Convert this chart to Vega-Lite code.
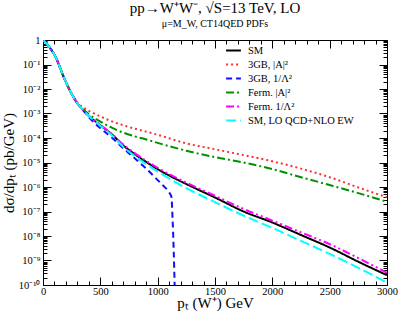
{
  "$schema": "https://vega.github.io/schema/vega-lite/v6.json",
  "autosize": {"type": "none"},
  "width": 344,
  "height": 245,
  "padding": {"left": 43, "top": 40, "right": 12, "bottom": 31},
  "background": "white",
  "config": {
    "font": "Liberation Serif",
    "view": {"stroke": null},
    "axis": {"domainColor": "black", "tickColor": "black", "labelColor": "black", "titleColor": "black", "labelFont": "Liberation Serif", "titleFont": "Liberation Serif", "titleFontWeight": "normal", "grid": false}
  },
  "title": {
    "text": "pp→W⁺W⁻, √S=13 TeV, LO",
    "subtitle": "μ=M_W, CT14QED PDFs",
    "font": "Liberation Serif",
    "fontSize": 15,
    "fontWeight": "normal",
    "color": "black",
    "subtitleFont": "Liberation Serif",
    "subtitleFontSize": 10,
    "subtitleColor": "black",
    "subtitlePadding": 3,
    "offset": 6,
    "anchor": "middle"
  },
  "data": {"values": [
    {"s": "SM", "pt": 5, "v": 0.955}, {"s": "SM", "pt": 25, "v": 0.759}, {"s": "SM", "pt": 50, "v": 0.562}, {"s": "SM", "pt": 75, "v": 0.38}, {"s": "SM", "pt": 100, "v": 0.251}, {"s": "SM", "pt": 125, "v": 0.141}, {"s": "SM", "pt": 150, "v": 0.0708}, {"s": "SM", "pt": 175, "v": 0.0355}, {"s": "SM", "pt": 200, "v": 0.0191}, {"s": "SM", "pt": 250, "v": 0.00631}, {"s": "SM", "pt": 300, "v": 0.00263}, {"s": "SM", "pt": 350, "v": 0.00138}, {"s": "SM", "pt": 400, "v": 7.94e-4}, {"s": "SM", "pt": 450, "v": 5.01e-4}, {"s": "SM", "pt": 500, "v": 3.31e-4}, {"s": "SM", "pt": 600, "v": 1.41e-4}, {"s": "SM", "pt": 700, "v": 5.01e-5}, {"s": "SM", "pt": 800, "v": 2.19e-5}, {"s": "SM", "pt": 900, "v": 1.05e-5}, {"s": "SM", "pt": 1000, "v": 5.37e-6}, {"s": "SM", "pt": 1100, "v": 2.95e-6}, {"s": "SM", "pt": 1250, "v": 1.32e-6}, {"s": "SM", "pt": 1500, "v": 3.72e-7}, {"s": "SM", "pt": 1750, "v": 1.0e-7}, {"s": "SM", "pt": 2000, "v": 3.55e-8}, {"s": "SM", "pt": 2250, "v": 1.1e-8}, {"s": "SM", "pt": 2500, "v": 3.39e-9}, {"s": "SM", "pt": 2750, "v": 8.91e-10}, {"s": "SM", "pt": 3000, "v": 2.51e-10},

    {"s": "3GB, |A|²", "pt": 5, "v": 0.955}, {"s": "3GB, |A|²", "pt": 25, "v": 0.759}, {"s": "3GB, |A|²", "pt": 50, "v": 0.562}, {"s": "3GB, |A|²", "pt": 75, "v": 0.38}, {"s": "3GB, |A|²", "pt": 100, "v": 0.251}, {"s": "3GB, |A|²", "pt": 125, "v": 0.141}, {"s": "3GB, |A|²", "pt": 150, "v": 0.0708}, {"s": "3GB, |A|²", "pt": 175, "v": 0.0355}, {"s": "3GB, |A|²", "pt": 200, "v": 0.0191}, {"s": "3GB, |A|²", "pt": 250, "v": 0.00631}, {"s": "3GB, |A|²", "pt": 300, "v": 0.00275}, {"s": "3GB, |A|²", "pt": 350, "v": 0.00178}, {"s": "3GB, |A|²", "pt": 400, "v": 0.00129}, {"s": "3GB, |A|²", "pt": 500, "v": 7.59e-4}, {"s": "3GB, |A|²", "pt": 600, "v": 4.79e-4}, {"s": "3GB, |A|²", "pt": 700, "v": 3.31e-4}, {"s": "3GB, |A|²", "pt": 800, "v": 2.4e-4}, {"s": "3GB, |A|²", "pt": 900, "v": 1.82e-4}, {"s": "3GB, |A|²", "pt": 1000, "v": 1.35e-4}, {"s": "3GB, |A|²", "pt": 1250, "v": 6.03e-5}, {"s": "3GB, |A|²", "pt": 1500, "v": 3.47e-5}, {"s": "3GB, |A|²", "pt": 1750, "v": 2.0e-5}, {"s": "3GB, |A|²", "pt": 2000, "v": 1.12e-5}, {"s": "3GB, |A|²", "pt": 2250, "v": 5.62e-6}, {"s": "3GB, |A|²", "pt": 2500, "v": 2.51e-6}, {"s": "3GB, |A|²", "pt": 2750, "v": 9.55e-7}, {"s": "3GB, |A|²", "pt": 3000, "v": 3.8e-7},

    {"s": "3GB, 1/Λ²", "pt": 5, "v": 0.955}, {"s": "3GB, 1/Λ²", "pt": 25, "v": 0.759}, {"s": "3GB, 1/Λ²", "pt": 50, "v": 0.562}, {"s": "3GB, 1/Λ²", "pt": 75, "v": 0.38}, {"s": "3GB, 1/Λ²", "pt": 100, "v": 0.251}, {"s": "3GB, 1/Λ²", "pt": 125, "v": 0.141}, {"s": "3GB, 1/Λ²", "pt": 150, "v": 0.0708}, {"s": "3GB, 1/Λ²", "pt": 175, "v": 0.0355}, {"s": "3GB, 1/Λ²", "pt": 200, "v": 0.0191}, {"s": "3GB, 1/Λ²", "pt": 250, "v": 0.00631}, {"s": "3GB, 1/Λ²", "pt": 300, "v": 0.00263}, {"s": "3GB, 1/Λ²", "pt": 350, "v": 0.00138}, {"s": "3GB, 1/Λ²", "pt": 400, "v": 7.08e-4}, {"s": "3GB, 1/Λ²", "pt": 500, "v": 2.51e-4}, {"s": "3GB, 1/Λ²", "pt": 600, "v": 1.05e-4}, {"s": "3GB, 1/Λ²", "pt": 700, "v": 3.8e-5}, {"s": "3GB, 1/Λ²", "pt": 800, "v": 1.48e-5}, {"s": "3GB, 1/Λ²", "pt": 900, "v": 5.62e-6}, {"s": "3GB, 1/Λ²", "pt": 1000, "v": 1.91e-6}, {"s": "3GB, 1/Λ²", "pt": 1050, "v": 1.12e-6}, {"s": "3GB, 1/Λ²", "pt": 1100, "v": 6.03e-7}, {"s": "3GB, 1/Λ²", "pt": 1120, "v": 3.98e-7}, {"s": "3GB, 1/Λ²", "pt": 1130, "v": 5.01e-8}, {"s": "3GB, 1/Λ²", "pt": 1140, "v": 2.51e-9}, {"s": "3GB, 1/Λ²", "pt": 1148, "v": 1e-10},

    {"s": "Ferm. |A|²", "pt": 5, "v": 0.955}, {"s": "Ferm. |A|²", "pt": 25, "v": 0.759}, {"s": "Ferm. |A|²", "pt": 50, "v": 0.562}, {"s": "Ferm. |A|²", "pt": 75, "v": 0.38}, {"s": "Ferm. |A|²", "pt": 100, "v": 0.251}, {"s": "Ferm. |A|²", "pt": 125, "v": 0.141}, {"s": "Ferm. |A|²", "pt": 150, "v": 0.0708}, {"s": "Ferm. |A|²", "pt": 175, "v": 0.0355}, {"s": "Ferm. |A|²", "pt": 200, "v": 0.0191}, {"s": "Ferm. |A|²", "pt": 250, "v": 0.00631}, {"s": "Ferm. |A|²", "pt": 300, "v": 0.00251}, {"s": "Ferm. |A|²", "pt": 350, "v": 0.00148}, {"s": "Ferm. |A|²", "pt": 400, "v": 9.33e-4}, {"s": "Ferm. |A|²", "pt": 500, "v": 4.68e-4}, {"s": "Ferm. |A|²", "pt": 600, "v": 2.63e-4}, {"s": "Ferm. |A|²", "pt": 700, "v": 1.66e-4}, {"s": "Ferm. |A|²", "pt": 800, "v": 1.17e-4}, {"s": "Ferm. |A|²", "pt": 900, "v": 8.71e-5}, {"s": "Ferm. |A|²", "pt": 1000, "v": 6.31e-5}, {"s": "Ferm. |A|²", "pt": 1250, "v": 3.02e-5}, {"s": "Ferm. |A|²", "pt": 1500, "v": 1.66e-5}, {"s": "Ferm. |A|²", "pt": 1750, "v": 1.0e-5}, {"s": "Ferm. |A|²", "pt": 2000, "v": 5.37e-6}, {"s": "Ferm. |A|²", "pt": 2250, "v": 2.51e-6}, {"s": "Ferm. |A|²", "pt": 2500, "v": 1.2e-6}, {"s": "Ferm. |A|²", "pt": 2750, "v": 5.62e-7}, {"s": "Ferm. |A|²", "pt": 3000, "v": 2.51e-7},

    {"s": "Ferm. 1/Λ²", "pt": 5, "v": 0.955}, {"s": "Ferm. 1/Λ²", "pt": 25, "v": 0.759}, {"s": "Ferm. 1/Λ²", "pt": 50, "v": 0.562}, {"s": "Ferm. 1/Λ²", "pt": 75, "v": 0.38}, {"s": "Ferm. 1/Λ²", "pt": 100, "v": 0.251}, {"s": "Ferm. 1/Λ²", "pt": 125, "v": 0.141}, {"s": "Ferm. 1/Λ²", "pt": 150, "v": 0.0708}, {"s": "Ferm. 1/Λ²", "pt": 175, "v": 0.0355}, {"s": "Ferm. 1/Λ²", "pt": 200, "v": 0.0191}, {"s": "Ferm. 1/Λ²", "pt": 250, "v": 0.00631}, {"s": "Ferm. 1/Λ²", "pt": 300, "v": 0.00263}, {"s": "Ferm. 1/Λ²", "pt": 350, "v": 0.00138}, {"s": "Ferm. 1/Λ²", "pt": 400, "v": 7.94e-4}, {"s": "Ferm. 1/Λ²", "pt": 450, "v": 5.01e-4}, {"s": "Ferm. 1/Λ²", "pt": 500, "v": 3.39e-4}, {"s": "Ferm. 1/Λ²", "pt": 600, "v": 1.48e-4}, {"s": "Ferm. 1/Λ²", "pt": 700, "v": 5.37e-5}, {"s": "Ferm. 1/Λ²", "pt": 800, "v": 2.4e-5}, {"s": "Ferm. 1/Λ²", "pt": 900, "v": 1.17e-5}, {"s": "Ferm. 1/Λ²", "pt": 1000, "v": 6.03e-6}, {"s": "Ferm. 1/Λ²", "pt": 1250, "v": 1.51e-6}, {"s": "Ferm. 1/Λ²", "pt": 1500, "v": 4.37e-7}, {"s": "Ferm. 1/Λ²", "pt": 1750, "v": 1.26e-7}, {"s": "Ferm. 1/Λ²", "pt": 2000, "v": 4.27e-8}, {"s": "Ferm. 1/Λ²", "pt": 2250, "v": 1.41e-8}, {"s": "Ferm. 1/Λ²", "pt": 2500, "v": 4.68e-9}, {"s": "Ferm. 1/Λ²", "pt": 2750, "v": 1.26e-9}, {"s": "Ferm. 1/Λ²", "pt": 3000, "v": 3.16e-10},

    {"s": "SM, LO QCD+NLO EW", "pt": 5, "v": 0.955}, {"s": "SM, LO QCD+NLO EW", "pt": 25, "v": 0.759}, {"s": "SM, LO QCD+NLO EW", "pt": 50, "v": 0.562}, {"s": "SM, LO QCD+NLO EW", "pt": 75, "v": 0.38}, {"s": "SM, LO QCD+NLO EW", "pt": 100, "v": 0.251}, {"s": "SM, LO QCD+NLO EW", "pt": 125, "v": 0.141}, {"s": "SM, LO QCD+NLO EW", "pt": 150, "v": 0.0708}, {"s": "SM, LO QCD+NLO EW", "pt": 175, "v": 0.0355}, {"s": "SM, LO QCD+NLO EW", "pt": 200, "v": 0.0191}, {"s": "SM, LO QCD+NLO EW", "pt": 250, "v": 0.00631}, {"s": "SM, LO QCD+NLO EW", "pt": 300, "v": 0.00263}, {"s": "SM, LO QCD+NLO EW", "pt": 350, "v": 0.00138}, {"s": "SM, LO QCD+NLO EW", "pt": 400, "v": 7.94e-4}, {"s": "SM, LO QCD+NLO EW", "pt": 450, "v": 5.01e-4}, {"s": "SM, LO QCD+NLO EW", "pt": 500, "v": 3.16e-4}, {"s": "SM, LO QCD+NLO EW", "pt": 600, "v": 1.29e-4}, {"s": "SM, LO QCD+NLO EW", "pt": 700, "v": 4.37e-5}, {"s": "SM, LO QCD+NLO EW", "pt": 800, "v": 1.82e-5}, {"s": "SM, LO QCD+NLO EW", "pt": 900, "v": 8.51e-6}, {"s": "SM, LO QCD+NLO EW", "pt": 1000, "v": 4.27e-6}, {"s": "SM, LO QCD+NLO EW", "pt": 1250, "v": 8.91e-7}, {"s": "SM, LO QCD+NLO EW", "pt": 1500, "v": 2.4e-7}, {"s": "SM, LO QCD+NLO EW", "pt": 1750, "v": 6.76e-8}, {"s": "SM, LO QCD+NLO EW", "pt": 2000, "v": 2.14e-8}, {"s": "SM, LO QCD+NLO EW", "pt": 2250, "v": 6.31e-9}, {"s": "SM, LO QCD+NLO EW", "pt": 2500, "v": 1.86e-9}, {"s": "SM, LO QCD+NLO EW", "pt": 2750, "v": 5.01e-10}, {"s": "SM, LO QCD+NLO EW", "pt": 3000, "v": 1.26e-10}
  ]},
  "resolve": {"axis": {"x": "independent", "y": "independent"}},
  "layer": [
    {
      "mark": {"type": "line", "clip": true, "strokeWidth": 2, "interpolate": "monotone"},
      "encoding": {
        "x": {"field": "pt", "type": "quantitative", "scale": {"domain": [0, 3000], "nice": false, "zero": false},
          "axis": {"orient": "bottom", "title": "pₜ (W⁺) GeV", "titleFontSize": 15, "titlePadding": -5,
            "values": [0,100,200,300,400,500,600,700,800,900,1000,1100,1200,1300,1400,1500,1600,1700,1800,1900,2000,2100,2200,2300,2400,2500,2600,2700,2800,2900,3000],
            "labelExpr": "datum.value % 500 == 0 ? datum.value : ''",
            "tickSize": {"condition": {"test": "datum.value % 500 == 0", "value": -8}, "value": -4},
            "labelPadding": 9, "labelFontSize": 10.5, "labelFlush": false, "labelOverlap": false}},
        "y": {"field": "v", "type": "quantitative", "scale": {"type": "log", "domain": [1e-10, 1], "nice": false},
          "axis": {"orient": "left", "title": "dσ/dpₜ (pb/GeV)", "titleFontSize": 15, "titlePadding": 2,
            "values": [1e-10,2e-10,3e-10,4e-10,5e-10,6e-10,7e-10,8e-10,9e-10,1e-9,2e-9,3e-9,4e-9,5e-9,6e-9,7e-9,8e-9,9e-9,1e-8,2e-8,3e-8,4e-8,5e-8,6e-8,7e-8,8e-8,9e-8,1e-7,2e-7,3e-7,4e-7,5e-7,6e-7,7e-7,8e-7,9e-7,1e-6,2e-6,3e-6,4e-6,5e-6,6e-6,7e-6,8e-6,9e-6,1e-5,2e-5,3e-5,4e-5,5e-5,6e-5,7e-5,8e-5,9e-5,1e-4,2e-4,3e-4,4e-4,5e-4,6e-4,7e-4,8e-4,9e-4,0.001,0.002,0.003,0.004,0.005,0.006,0.007,0.008,0.009,0.01,0.02,0.03,0.04,0.05,0.06,0.07,0.08,0.09,0.1,0.2,0.3,0.4,0.5,0.6,0.7,0.8,0.9,1],
            "labelExpr": "abs(log(datum.value)/LN10 - round(log(datum.value)/LN10)) < 0.01 ? (round(log(datum.value)/LN10) == 0 ? '1' : '10' + ['','⁻¹','⁻²','⁻³','⁻⁴','⁻⁵','⁻⁶','⁻⁷','⁻⁸','⁻⁹','⁻¹⁰'][-round(log(datum.value)/LN10)]) : ''",
            "tickSize": {"condition": {"test": "abs(log(datum.value)/LN10 - round(log(datum.value)/LN10)) < 0.01", "value": -8}, "value": -4},
            "labelPadding": 11, "labelFontSize": 10.5, "labelOverlap": false, "labelFlush": false}},
        "color": {"field": "s", "type": "nominal",
          "scale": {"domain": ["SM", "3GB, |A|²", "3GB, 1/Λ²", "Ferm. |A|²", "Ferm. 1/Λ²", "SM, LO QCD+NLO EW"],
            "range": ["#000000", "#ff3030", "#1010ff", "#009000", "#ff00ff", "#00ffff"]},
          "legend": {"title": null, "orient": "none", "legendX": 182, "legendY": 2, "symbolType": "stroke", "symbolSize": 220, "symbolStrokeWidth": 2, "labelFontSize": 10.5, "labelFont": "Liberation Serif", "labelColor": "black", "rowPadding": 0, "padding": 0, "labelOffset": 6}},
        "strokeDash": {"field": "s", "type": "nominal",
          "scale": {"domain": ["SM", "3GB, |A|²", "3GB, 1/Λ²", "Ferm. |A|²", "Ferm. 1/Λ²", "SM, LO QCD+NLO EW"],
            "range": [[1, 0], [2, 3], [6, 4], [8, 3, 2, 3], [8, 3, 2, 3, 2, 3], [10, 4]]},
          "legend": {"title": null, "orient": "none", "legendX": 182, "legendY": 2, "symbolType": "stroke", "symbolSize": 220, "symbolStrokeWidth": 2, "labelFontSize": 10.5, "labelFont": "Liberation Serif", "labelColor": "black", "rowPadding": 0, "padding": 0, "labelOffset": 6}}
      }
    },
    {
      "mark": {"type": "line", "strokeOpacity": 0, "clip": true},
      "encoding": {
        "x": {"field": "pt", "type": "quantitative", "scale": {"domain": [0, 3000], "nice": false, "zero": false},
          "axis": {"orient": "top", "title": null, "labels": false,
            "values": [0,100,200,300,400,500,600,700,800,900,1000,1100,1200,1300,1400,1500,1600,1700,1800,1900,2000,2100,2200,2300,2400,2500,2600,2700,2800,2900,3000],
            "tickSize": {"condition": {"test": "datum.value % 500 == 0", "value": -8}, "value": -4}}},
        "y": {"field": "v", "type": "quantitative", "scale": {"type": "log", "domain": [1e-10, 1], "nice": false},
          "axis": {"orient": "right", "title": null, "labels": false,
            "values": [1e-10,2e-10,3e-10,4e-10,5e-10,6e-10,7e-10,8e-10,9e-10,1e-9,2e-9,3e-9,4e-9,5e-9,6e-9,7e-9,8e-9,9e-9,1e-8,2e-8,3e-8,4e-8,5e-8,6e-8,7e-8,8e-8,9e-8,1e-7,2e-7,3e-7,4e-7,5e-7,6e-7,7e-7,8e-7,9e-7,1e-6,2e-6,3e-6,4e-6,5e-6,6e-6,7e-6,8e-6,9e-6,1e-5,2e-5,3e-5,4e-5,5e-5,6e-5,7e-5,8e-5,9e-5,1e-4,2e-4,3e-4,4e-4,5e-4,6e-4,7e-4,8e-4,9e-4,0.001,0.002,0.003,0.004,0.005,0.006,0.007,0.008,0.009,0.01,0.02,0.03,0.04,0.05,0.06,0.07,0.08,0.09,0.1,0.2,0.3,0.4,0.5,0.6,0.7,0.8,0.9,1],
            "tickSize": {"condition": {"test": "abs(log(datum.value)/LN10 - round(log(datum.value)/LN10)) < 0.01", "value": -8}, "value": -4}}}
      }
    }
  ]
}
